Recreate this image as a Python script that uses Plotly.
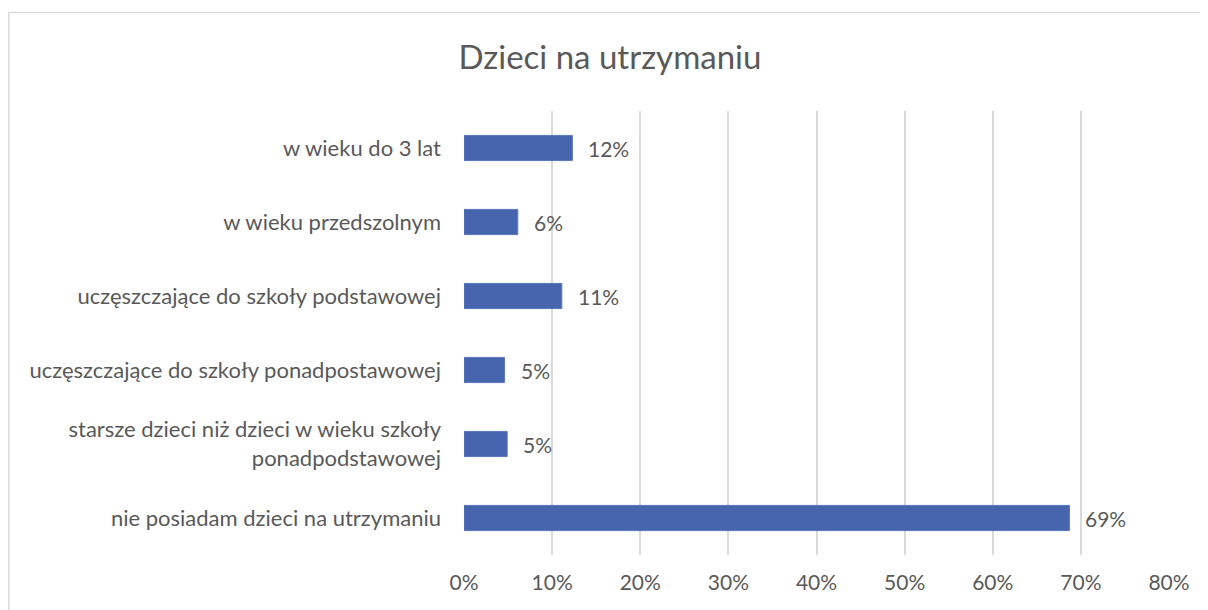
import plotly.graph_objects as go

categories = [
    "w wieku do 3 lat",
    "w wieku przedszolnym",
    "uczęszczające do szkoły podstawowej",
    "uczęszczające do szkoły ponadpostawowej",
    "starsze dzieci niż dzieci w wieku szkoły<br>ponadpodstawowej",
    "nie posiadam dzieci na utrzymaniu",
]
values = [12.3, 6.1, 11.1, 4.6, 4.9, 68.7]
tick_vals = [0, 10, 20, 30, 40, 50, 60, 70, 80]
tick_text = ["0%", "10%", "20%", "30%", "40%", "50%", "60%", "70%", "80%"]
title_text = "Dzieci na utrzymaniu"

FONT = "Lato"
GREY = "#595959"

# page body has an 8px margin, so the figure is laid out 8px smaller
W, H = 1200, 602
L, R, T, B = 456, 39, 103, 55
PW, PH = W - L - R, H - T - B

fig = go.Figure()
fig.add_trace(go.Bar(
    x=values, y=categories, orientation="h",
    marker=dict(color="#4765AE", line=dict(color="#5a77bd", width=1)),
    width=0.34, hoverinfo="skip",
))
for v, c in zip(values, categories):
    fig.add_annotation(x=v, y=c, xref="x", yref="y", text=f"{round(v):d}%",
                       showarrow=False, xanchor="left", xshift=14,
                       font=dict(family=FONT, size=21, color=GREY))

fig.add_shape(type="rect", xref="paper", yref="paper",
              x0=-(L - 0.75) / PW, x1=1.2, y0=-0.3, y1=1 + (T - 4.5) / PH,
              line=dict(color="#d9d9d9", width=1.5), layer="below")

fig.update_layout(
    width=W, height=H,
    margin=dict(l=L, r=R, t=T, b=B),
    paper_bgcolor="white", plot_bgcolor="white",
    showlegend=False,
    title=dict(text=title_text, x=602 / W, xanchor="center", y=1 - 49 / H, yanchor="middle",
               font=dict(family=FONT, size=33, color=GREY)),
    xaxis=dict(range=[0, 80], tickvals=tick_vals, ticktext=tick_text,
               showgrid=True, gridcolor="#d9d9d9", gridwidth=1.5, zeroline=False,
               showline=False, ticks="", ticklabelstandoff=13,
               tickfont=dict(family=FONT, size=21, color=GREY), fixedrange=True),
    yaxis=dict(categoryorder="array", categoryarray=categories[::-1],
               autorange=False, range=[-0.5, 5.5],
               showgrid=False, zeroline=False, showline=False, ticks="",
               ticklabelstandoff=22,
               tickfont=dict(family=FONT, size=22, color=GREY)),
    font=dict(family=FONT, color=GREY),
)
fig.write_html("out.html")
